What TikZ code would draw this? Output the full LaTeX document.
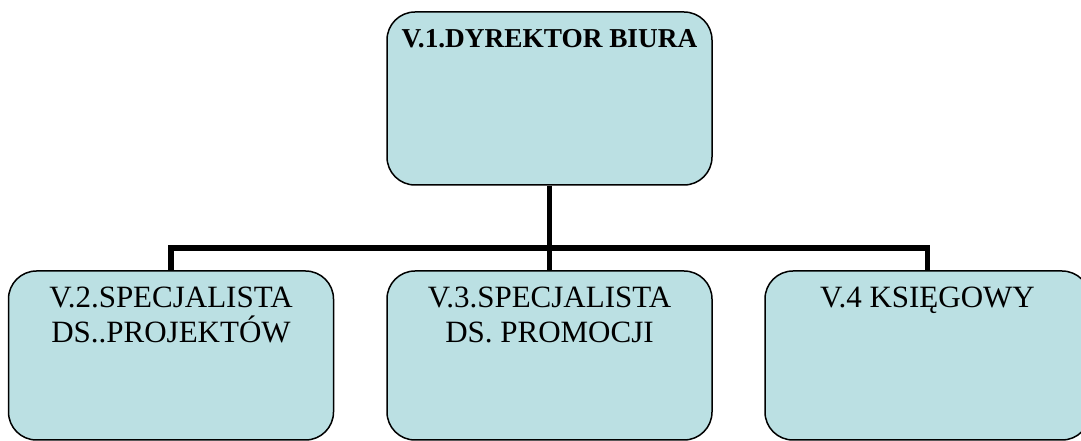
\documentclass[tikz,border=0pt]{standalone}
\usepackage{fontspec}
\setmainfont{Liberation Serif}
\usepackage{xcolor}
\definecolor{boxblue}{HTML}{BBE0E3}
\usetikzlibrary{positioning}
\tikzset{
  box/.style={draw, rounded corners=28pt, fill=boxblue, line width=1.5pt,
    minimum width=325pt, inner sep=0pt},
  boxtext/.style={anchor=north, inner sep=0pt, align=center,
    font=\fontsize{31}{35.5}\selectfont},
  bus/.style={draw, line width=5.5pt}
}
\begin{document}
\begin{tikzpicture}[x=1pt,y=1pt]
    \useasboundingbox (0,0) rectangle (1081,441);
    % Place boxes
    \node [box, minimum height=173pt] (dyr) at (549.5,342.5) {};
    \node [box, minimum height=169pt] (spec2) at (171,85.5) {};
    \node [box, minimum height=169pt] (spec3) at (549.5,85.5) {};
    \node [box, minimum height=169pt] (ksieg) at (927.5,85.5) {};

    % Texts
    \node [boxtext, font=\fontsize{27.3}{32}\selectfont\bfseries, below=17.5pt of dyr.north] (tdyr) {V.1.DYREKTOR BIURA};
    \node [boxtext, below=16.5pt of spec2.north] (tspec2) {V.2.SPECJALISTA\\DS..PROJEKTÓW};
    \node [boxtext, below=16.5pt of spec3.north] (tspec3) {V.3.SPECJALISTA\\DS. PROMOCJI};
    \node [boxtext, below=16.5pt of ksieg.north] (tksieg) {V.4 KSIĘGOWY};

    % Draw edges
    \path [bus] (dyr.south) -- (spec3.north);
    \path [bus] (spec2.north) -- ++(0,22) -| (ksieg.north);
\end{tikzpicture}
\end{document}
